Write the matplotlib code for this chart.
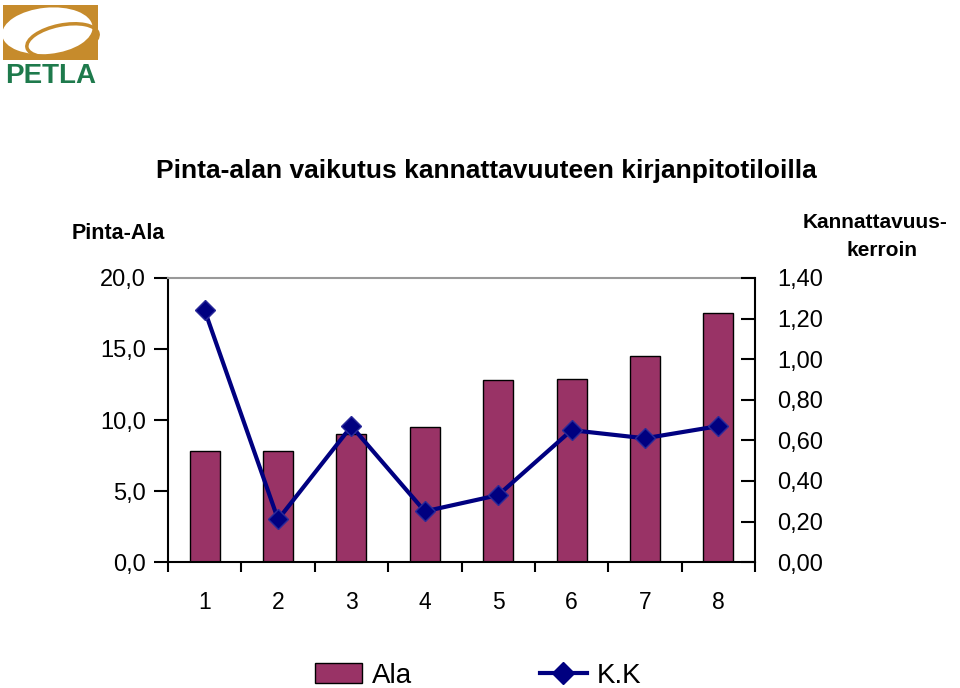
import numpy as np
import matplotlib.pyplot as plt
from matplotlib.patches import Rectangle, Ellipse
from matplotlib.lines import Line2D

plt.rcParams['font.family'] = ['Liberation Sans', 'DejaVu Sans']

# data
groups = ['1', '2', '3', '4', '5', '6', '7', '8']
ala = [7.8, 7.8, 9.0, 9.5, 12.8, 12.9, 14.5, 17.5]
kk = [1.24, 0.21, 0.67, 0.25, 0.33, 0.65, 0.61, 0.67]
left_ticks = [0, 5, 10, 15, 20]
right_ticks = [0.0, 0.2, 0.4, 0.6, 0.8, 1.0, 1.2, 1.4]

bar_color = '#993366'
line_color = '#000080'

fig = plt.figure(figsize=(9.6, 6.88), dpi=100)
ax = fig.add_axes([0.175, 0.183, 0.6115, 0.413])
x = np.arange(1, len(groups) + 1)

ax.bar(x, ala, width=0.41, color=bar_color, edgecolor='black', linewidth=1.0, zorder=2)
ax.set_xlim(0.5, len(groups) + 0.5)
ax.set_ylim(0, 20)
ax.set_yticks(left_ticks)
ax.set_yticklabels([f'{v:.1f}'.replace('.', ',') for v in left_ticks])
ax.set_xticks(x)
ax.set_xticklabels(groups)
ax.set_xticks(np.arange(0.5, len(groups) + 1, 1.0), minor=True)
ax.tick_params(axis='x', which='major', length=0, pad=21, labelsize=16.5)
ax.tick_params(axis='x', which='minor', length=7, width=1.5, direction='out')
ax.tick_params(axis='y', length=10, width=1.5, direction='out', pad=6, labelsize=17)
ax.spines['left'].set_linewidth(1.5)
ax.spines['bottom'].set_linewidth(1.5)
ax.spines['top'].set_color('#999999')
ax.spines['top'].set_linewidth(1.5)
ax.spines['right'].set_visible(False)

ax2 = ax.twinx()
ax2.plot(x, kk, color=line_color, linewidth=3, marker='D', markersize=10,
         markerfacecolor=line_color, markeredgecolor='#2a2a9a', zorder=3)
ax2.set_ylim(0, 1.4)
ax2.set_yticks(right_ticks)
ax2.set_yticklabels([f'{v:.2f}'.replace('.', ',') for v in right_ticks])
ax2.tick_params(axis='y', length=10, width=1.5, direction='in', pad=16, labelsize=17)
ax2.spines['right'].set_linewidth(1.5)
for s in ['top', 'left', 'bottom']:
    ax2.spines[s].set_visible(False)

fig.text(0.507, 0.752, 'Pinta-alan vaikutus kannattavuuteen kirjanpitotiloilla',
         ha='center', va='center', fontsize=19, fontweight='bold')
fig.text(0.123, 0.661, 'Pinta-Ala', ha='center', va='center', fontsize=15.5, fontweight='bold')
fig.text(0.912, 0.677, 'Kannattavuus-', ha='center', va='center', fontsize=15, fontweight='bold')
fig.text(0.919, 0.636, 'kerroin', ha='center', va='center', fontsize=15, fontweight='bold')

handles = [Rectangle((0, 0), 1, 1, facecolor=bar_color, edgecolor='black', linewidth=1.0),
           Line2D([], [], color=line_color, linewidth=3, marker='D', markersize=11,
                  markerfacecolor=line_color)]
fig.legend(handles, ['Ala', 'K.K'], loc='center', bbox_to_anchor=(0.498, 0.018), ncol=2,
           frameon=False, fontsize=20, handlelength=1.7, handleheight=0.7,
           columnspacing=4.6, handletextpad=0.35)

# logo
lg = fig.add_axes([0.0, 0.86, 0.105, 0.14])
lg.set_xlim(0, 100)
lg.set_ylim(100, 0)
lg.axis('off')
lg.add_patch(Rectangle((3, 5), 94, 57, facecolor='#C68B2C', edgecolor='none'))
lg.add_patch(Ellipse((47, 32), 90, 48, angle=-6, facecolor='white', edgecolor='none'))
lg.add_patch(Ellipse((62, 42), 72, 32, angle=-12, facecolor='none', edgecolor='#C68B2C', linewidth=2.5))
lg.text(50, 79, 'PETLA', ha='center', va='center', fontsize=20, fontweight='bold', color='#1E7A4C')

fig.savefig('out.png', dpi=100)
